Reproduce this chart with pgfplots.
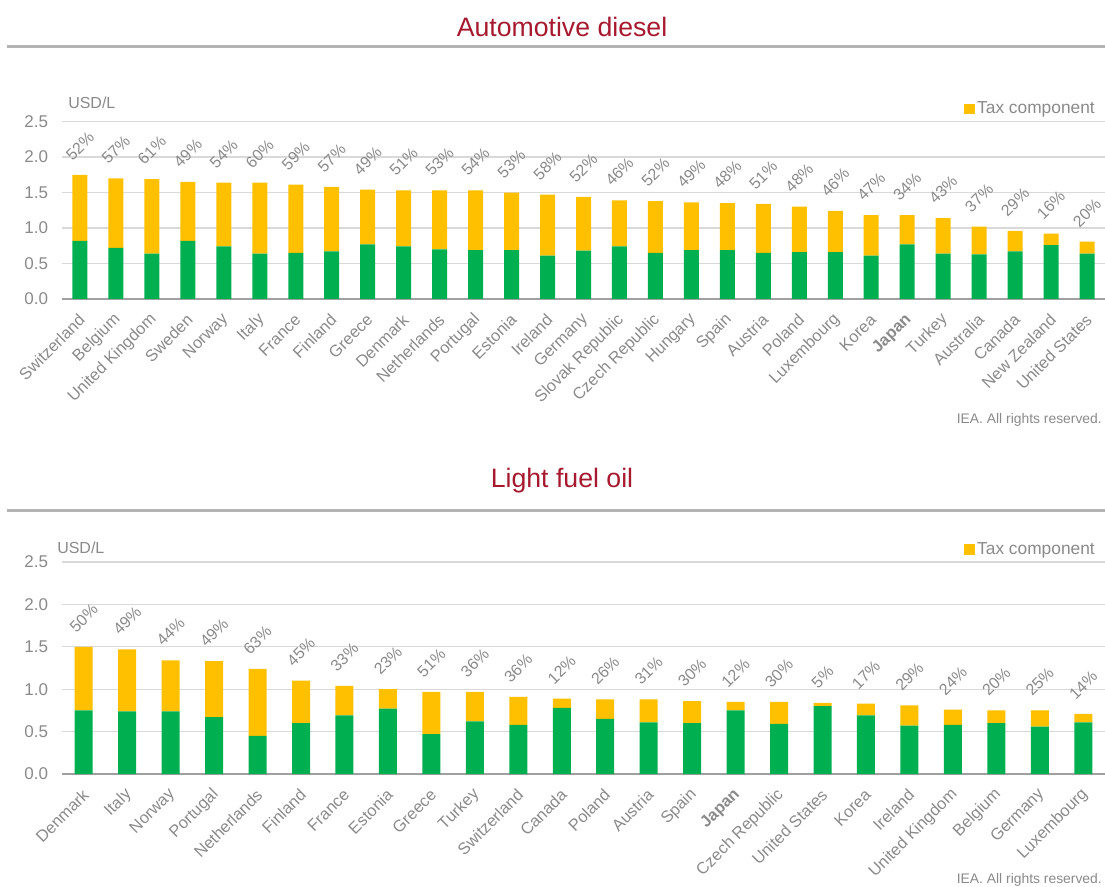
\documentclass[border=0pt]{standalone}
\usepackage{graphicx}
\usepackage{pgfplots}
\pgfplotsset{compat=1.18}
\usepackage{pgfplotstable}
\usepackage{fontspec}
\setmainfont{Liberation Sans}
\definecolor{tgreen}{HTML}{00B050}
\definecolor{tyellow}{HTML}{FFC000}
\definecolor{ttitle}{HTML}{A6192E}
\definecolor{tgrey}{HTML}{8A8A8A}
\definecolor{tgrid}{HTML}{D9D9D9}
\definecolor{taxis}{HTML}{A0A0A0}
\definecolor{trule}{HTML}{B3B3B3}

% base = pre-tax price, tax = tax component (USD/L), pct = tax share (%), lab = invisible label carrier
\pgfplotstableread{
x base tax pct lab
0 0.82 0.93 52 0.001
1 0.72 0.98 57 0.001
2 0.64 1.05 61 0.001
3 0.82 0.83 49 0.001
4 0.74 0.90 54 0.001
5 0.64 1.00 60 0.001
6 0.65 0.96 59 0.001
7 0.67 0.91 57 0.001
8 0.77 0.77 49 0.001
9 0.74 0.79 51 0.001
10 0.70 0.83 53 0.001
11 0.69 0.84 54 0.001
12 0.69 0.81 53 0.001
13 0.61 0.86 58 0.001
14 0.68 0.76 52 0.001
15 0.74 0.65 46 0.001
16 0.65 0.73 52 0.001
17 0.69 0.67 49 0.001
18 0.69 0.66 48 0.001
19 0.65 0.69 51 0.001
20 0.66 0.64 48 0.001
21 0.66 0.58 46 0.001
22 0.61 0.57 47 0.001
23 0.77 0.41 34 0.001
24 0.64 0.50 43 0.001
25 0.63 0.39 37 0.001
26 0.67 0.29 29 0.001
27 0.76 0.16 16 0.001
28 0.64 0.17 20 0.001
}\diesel

\pgfplotstableread{
x base tax pct lab
0 0.75 0.75 50 0.001
1 0.74 0.73 49 0.001
2 0.74 0.60 44 0.001
3 0.67 0.66 49 0.001
4 0.45 0.79 63 0.001
5 0.60 0.50 45 0.001
6 0.69 0.35 33 0.001
7 0.77 0.23 23 0.001
8 0.47 0.50 51 0.001
9 0.62 0.35 36 0.001
10 0.58 0.33 36 0.001
11 0.78 0.11 12 0.001
12 0.65 0.23 26 0.001
13 0.61 0.27 31 0.001
14 0.60 0.26 30 0.001
15 0.75 0.10 12 0.001
16 0.59 0.26 30 0.001
17 0.80 0.04 5 0.001
18 0.69 0.14 17 0.001
19 0.57 0.24 29 0.001
20 0.58 0.18 24 0.001
21 0.60 0.15 20 0.001
22 0.56 0.19 25 0.001
23 0.61 0.10 14 0.001
}\lfo

\pgfplotsset{
  ieastyle/.style={
    scale only axis,
    width=782.25pt,
    ybar stacked,
    ymin=0, ymax=2.5,
    ytick={0,0.5,1,1.5,2,2.5},
    enlarge x limits=false,
    axis x line*=bottom,
    axis y line*=left,
    y axis line style={draw=none},
    x axis line style={draw=taxis, line width=1.3pt},
    major tick length=0pt,
    ymajorgrids,
    grid style={draw=tgrid, line width=0.9pt},
    /pgf/number format/assume math mode=true,
    yticklabel style={text=tgrey, font=\fontsize{12.75}{14}\selectfont,
      /pgf/number format/fixed, /pgf/number format/fixed zerofill,
      /pgf/number format/precision=1, xshift=-7pt},
    xticklabel style={text=tgrey, font=\fontsize{12.3}{14}\selectfont,
      yshift=-13.5pt, xshift=1.5pt, rotate=45, anchor=east, inner sep=0pt},
    clip=false,
    legend style={draw=none, fill=none, at={(1,1)}, anchor=south east,
      xshift=-5.5pt, yshift=2pt, font=\fontsize{13}{15}\selectfont, text=tgrey,
      inner sep=0pt},
    legend image code/.code={\fill[tyellow] (0pt,-4.1pt) rectangle (8.25pt,4.1pt);},
  },
  pctlabels/.style={
    draw=none, fill=none, forget plot,
    point meta=explicit symbolic,
    nodes near coords={\rotatebox{45}{\pgfplotspointmeta\%}},
    every node near coord/.append style={text=tgrey,
      font=\fontsize{12}{13}\selectfont,
      anchor=south, inner sep=0pt, outer sep=0pt, yshift=10pt},
  },
}

\begin{document}
\begin{tikzpicture}
\path[use as bounding box] (0pt,0pt) rectangle (828.75pt,-665.25pt);

% ---------- Top: Automotive diesel ----------
\node[text=ttitle, font=\fontsize{20}{24}\selectfont] at (421.5pt,-20.25pt) {Automotive diesel};
\draw[trule, line width=2.25pt] (5.25pt,-35.25pt) -- (828.75pt,-35.25pt);
\node[text=tgrey, font=\fontsize{12}{14}\selectfont, anchor=west, inner sep=0pt] at (51pt,-77.25pt) {USD/L};

\begin{axis}[ieastyle,
  at={(46.5pt,-224.25pt)}, anchor=south west,
  height=133.1pt,
  bar width=11.25pt,
  xmin=-0.5, xmax=28.5,
  xtick={0,...,28},
  xticklabels={Switzerland,Belgium,United Kingdom,Sweden,Norway,Italy,France,Finland,Greece,Denmark,Netherlands,Portugal,Estonia,Ireland,Germany,Slovak Republic,Czech Republic,Hungary,Spain,Austria,Poland,Luxembourg,Korea,{\bfseries Japan},Turkey,Australia,Canada,New Zealand,United States},
]
\addplot[fill=tgreen, draw=none, forget plot] table[x=x, y=base] {\diesel};
\addplot[fill=tyellow, draw=none] table[x=x, y=tax] {\diesel};
\addlegendentry{Tax component}
\addplot[pctlabels] table[x=x, y=lab, meta=pct] {\diesel};
\end{axis}
\node[text=tgrey, font=\fontsize{10.4}{12}\selectfont, anchor=east, inner sep=0pt] at (826.5pt,-315pt) {IEA. All rights reserved.};

% ---------- Bottom: Light fuel oil ----------
\node[text=ttitle, font=\fontsize{20}{24}\selectfont] at (421.5pt,-360.75pt) {Light fuel oil};
\draw[trule, line width=2.25pt] (5.25pt,-382.5pt) -- (828.75pt,-382.5pt);
\node[text=tgrey, font=\fontsize{12}{14}\selectfont, anchor=west, inner sep=0pt] at (42.75pt,-411pt) {USD/L};

\begin{axis}[ieastyle,
  at={(46.5pt,-580.5pt)}, anchor=south west,
  height=159pt,
  bar width=13.5pt,
  xmin=-0.5, xmax=23.5,
  xtick={0,...,23},
  xticklabels={Denmark,Italy,Norway,Portugal,Netherlands,Finland,France,Estonia,Greece,Turkey,Switzerland,Canada,Poland,Austria,Spain,{\bfseries Japan},Czech Republic,United States,Korea,Ireland,United Kingdom,Belgium,Germany,Luxembourg},
]
\addplot[fill=tgreen, draw=none, forget plot] table[x=x, y=base] {\lfo};
\addplot[fill=tyellow, draw=none] table[x=x, y=tax] {\lfo};
\addlegendentry{Tax component}
\addplot[pctlabels] table[x=x, y=lab, meta=pct] {\lfo};
\end{axis}
\node[text=tgrey, font=\fontsize{10.4}{12}\selectfont, anchor=east, inner sep=0pt] at (826.5pt,-660pt) {IEA. All rights reserved.};
\end{tikzpicture}
\end{document}
